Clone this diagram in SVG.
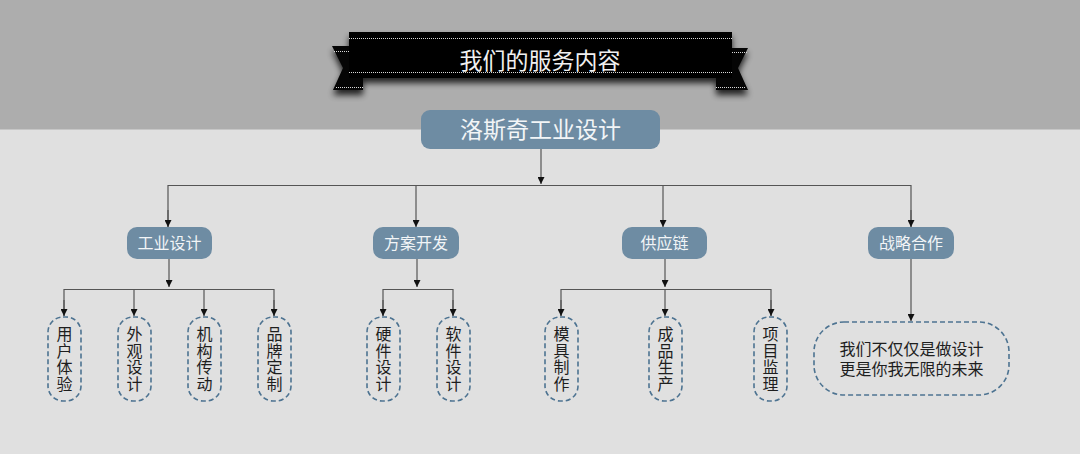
<svg xmlns="http://www.w3.org/2000/svg" width="1080" height="454" viewBox="0 0 1080 454">
<defs>
<style>
.lv{fill:#6e8ca3;}
.lvt{fill:#f2f5f7;font-family:"Noto Sans CJK SC","Noto Sans",sans-serif;text-anchor:middle;}
.leaf{fill:none;stroke:#4d7391;stroke-width:1.6;stroke-dasharray:5 3;}
.lt{fill:#1e1e1e;font-family:"Noto Sans CJK SC","Noto Sans",sans-serif;font-size:16px;text-anchor:middle;}
.vt{fill:#1e1e1e;font-family:"Noto Sans CJK SC","Noto Sans",sans-serif;font-size:16px;writing-mode:vertical-rl;text-anchor:start;letter-spacing:0.5px;}
.con{fill:none;stroke:#555;stroke-width:1.2;}
.dot{stroke:#d8d8d8;stroke-width:1;stroke-dasharray:1 1;}
</style>
<marker id="ah" viewBox="0 0 10 10" refX="10" refY="5" markerWidth="7" markerHeight="7" orient="auto" markerUnits="userSpaceOnUse">
<path d="M0,0 L10,5 L0,10 z" fill="#111"/>
</marker>
<filter id="sh" x="-10%" y="-30%" width="120%" height="170%">
<feGaussianBlur stdDeviation="3"/>
</filter>
</defs>
<rect x="0" y="0" width="1080" height="454" fill="#e0e0e0"/>
<rect x="0" y="0" width="1080" height="129" fill="#adadad"/>
<line x1="0" y1="129.5" x2="1080" y2="129.5" stroke="#c6c6c6" stroke-width="1"/>

<g id="banner">
<g filter="url(#sh)" opacity="0.8" transform="translate(0,5)">
<path d="M332,46 L363,46 L363,90 L333,90 L343,68 z" fill="#000"/>
<path d="M748,48 L716,48 L716,90 L748,90 L738,68 z" fill="#000"/>
<rect x="349" y="32" width="383" height="46" fill="#000"/>
</g>
<path d="M332,46 L363,46 L363,90 L333,90 L343,68 z" fill="#050505"/>
<path d="M748,48 L716,48 L716,90 L748,90 L738,68 z" fill="#050505"/>
<rect x="349" y="32" width="383" height="46" fill="#000"/>
<line class="dot" x1="349" y1="38.5" x2="732" y2="38.5"/>
<line class="dot" x1="349" y1="72.5" x2="732" y2="72.5"/>
<line class="dot" x1="334" y1="51.5" x2="349" y2="51.5"/>
<line class="dot" x1="336" y1="87.5" x2="363" y2="87.5"/>
<line class="dot" x1="732" y1="52.5" x2="747" y2="52.5"/>
<line class="dot" x1="716" y1="87.5" x2="746" y2="87.5"/>
<text x="540" y="69" fill="#f0f0f0" font-family="Noto Sans CJK SC,Noto Sans,sans-serif" font-size="23" text-anchor="middle">我们的服务内容</text>
</g>

<g id="connectors">
<line class="con" x1="541" y1="149" x2="541" y2="184" marker-end="url(#ah)"/>
<path class="con" d="M168,228 V185.5 H911 V228"/>
<line class="con" x1="168" y1="210" x2="168" y2="227" marker-end="url(#ah)"/>
<line class="con" x1="416" y1="186" x2="416" y2="227" marker-end="url(#ah)"/>
<line class="con" x1="663" y1="186" x2="663" y2="227" marker-end="url(#ah)"/>
<line class="con" x1="911" y1="210" x2="911" y2="227" marker-end="url(#ah)"/>

<line class="con" x1="169" y1="259" x2="169" y2="287" marker-end="url(#ah)"/>
<path class="con" d="M64,316 V289.5 H274 V316"/>
<line class="con" x1="64" y1="300" x2="64" y2="316" marker-end="url(#ah)"/>
<line class="con" x1="134" y1="289" x2="134" y2="316" marker-end="url(#ah)"/>
<line class="con" x1="204" y1="289" x2="204" y2="316" marker-end="url(#ah)"/>
<line class="con" x1="274" y1="300" x2="274" y2="316" marker-end="url(#ah)"/>

<line class="con" x1="417" y1="259" x2="417" y2="287" marker-end="url(#ah)"/>
<path class="con" d="M383,316 V289.5 H453 V316"/>
<line class="con" x1="383" y1="300" x2="383" y2="316" marker-end="url(#ah)"/>
<line class="con" x1="453" y1="300" x2="453" y2="316" marker-end="url(#ah)"/>

<line class="con" x1="665" y1="259" x2="665" y2="287" marker-end="url(#ah)"/>
<path class="con" d="M561,316 V289.5 H771 V316"/>
<line class="con" x1="561" y1="300" x2="561" y2="316" marker-end="url(#ah)"/>
<line class="con" x1="665" y1="289" x2="665" y2="316" marker-end="url(#ah)"/>
<line class="con" x1="771" y1="300" x2="771" y2="316" marker-end="url(#ah)"/>

<line class="con" x1="911" y1="259" x2="911" y2="321" marker-end="url(#ah)"/>
</g>

<g id="root">
<rect class="lv" x="421" y="110" width="239" height="39" rx="9"/>
<text class="lvt" x="540.5" y="138" font-size="23">洛斯奇工业设计</text>
</g>

<g id="n-gysj"><rect class="lv" x="127" y="227" width="85" height="32" rx="10"/><text class="lvt" x="169.5" y="249" font-size="16">工业设计</text></g>
<g id="n-fakf"><rect class="lv" x="373" y="227" width="86" height="32" rx="10"/><text class="lvt" x="416" y="249" font-size="16">方案开发</text></g>
<g id="n-gyl"><rect class="lv" x="622" y="227" width="85" height="32" rx="10"/><text class="lvt" x="664.5" y="249" font-size="16">供应链</text></g>
<g id="n-zlhz"><rect class="lv" x="868" y="227" width="86" height="32" rx="10"/><text class="lvt" x="911" y="249" font-size="16">战略合作</text></g>

<g id="l-yhty"><rect class="leaf" x="48" y="317" width="33" height="84" rx="15"/><text class="vt" x="64.5" y="326">用户体验</text></g>
<g id="l-wgsj"><rect class="leaf" x="118" y="317" width="33" height="84" rx="15"/><text class="vt" x="134.5" y="326">外观设计</text></g>
<g id="l-jgcd"><rect class="leaf" x="188" y="317" width="33" height="84" rx="15"/><text class="vt" x="204.5" y="326">机构传动</text></g>
<g id="l-ppdz"><rect class="leaf" x="258" y="317" width="33" height="84" rx="15"/><text class="vt" x="274.5" y="326">品牌定制</text></g>

<g id="l-yjsj"><rect class="leaf" x="367" y="317" width="33" height="84" rx="15"/><text class="vt" x="383.5" y="326">硬件设计</text></g>
<g id="l-rjsj"><rect class="leaf" x="437" y="317" width="33" height="84" rx="15"/><text class="vt" x="453.5" y="326">软件设计</text></g>

<g id="l-mjzz"><rect class="leaf" x="545" y="317" width="33" height="84" rx="15"/><text class="vt" x="561.5" y="326">模具制作</text></g>
<g id="l-cpsc"><rect class="leaf" x="649" y="317" width="33" height="84" rx="15"/><text class="vt" x="665.5" y="326">成品生产</text></g>
<g id="l-xmjl"><rect class="leaf" x="754" y="317" width="33" height="84" rx="15"/><text class="vt" x="770.5" y="326">项目监理</text></g>

<g id="l-slogan"><rect class="leaf" x="814" y="322" width="195" height="73" rx="30"/>
<text class="lt" font-size="16" style="font-family:'Liberation Sans','Noto Sans CJK SC',sans-serif"><tspan x="911.5" y="355">我们不仅仅是做设计</tspan><tspan x="911.5" y="375">更是你我无限的未来</tspan></text></g>
</svg>
